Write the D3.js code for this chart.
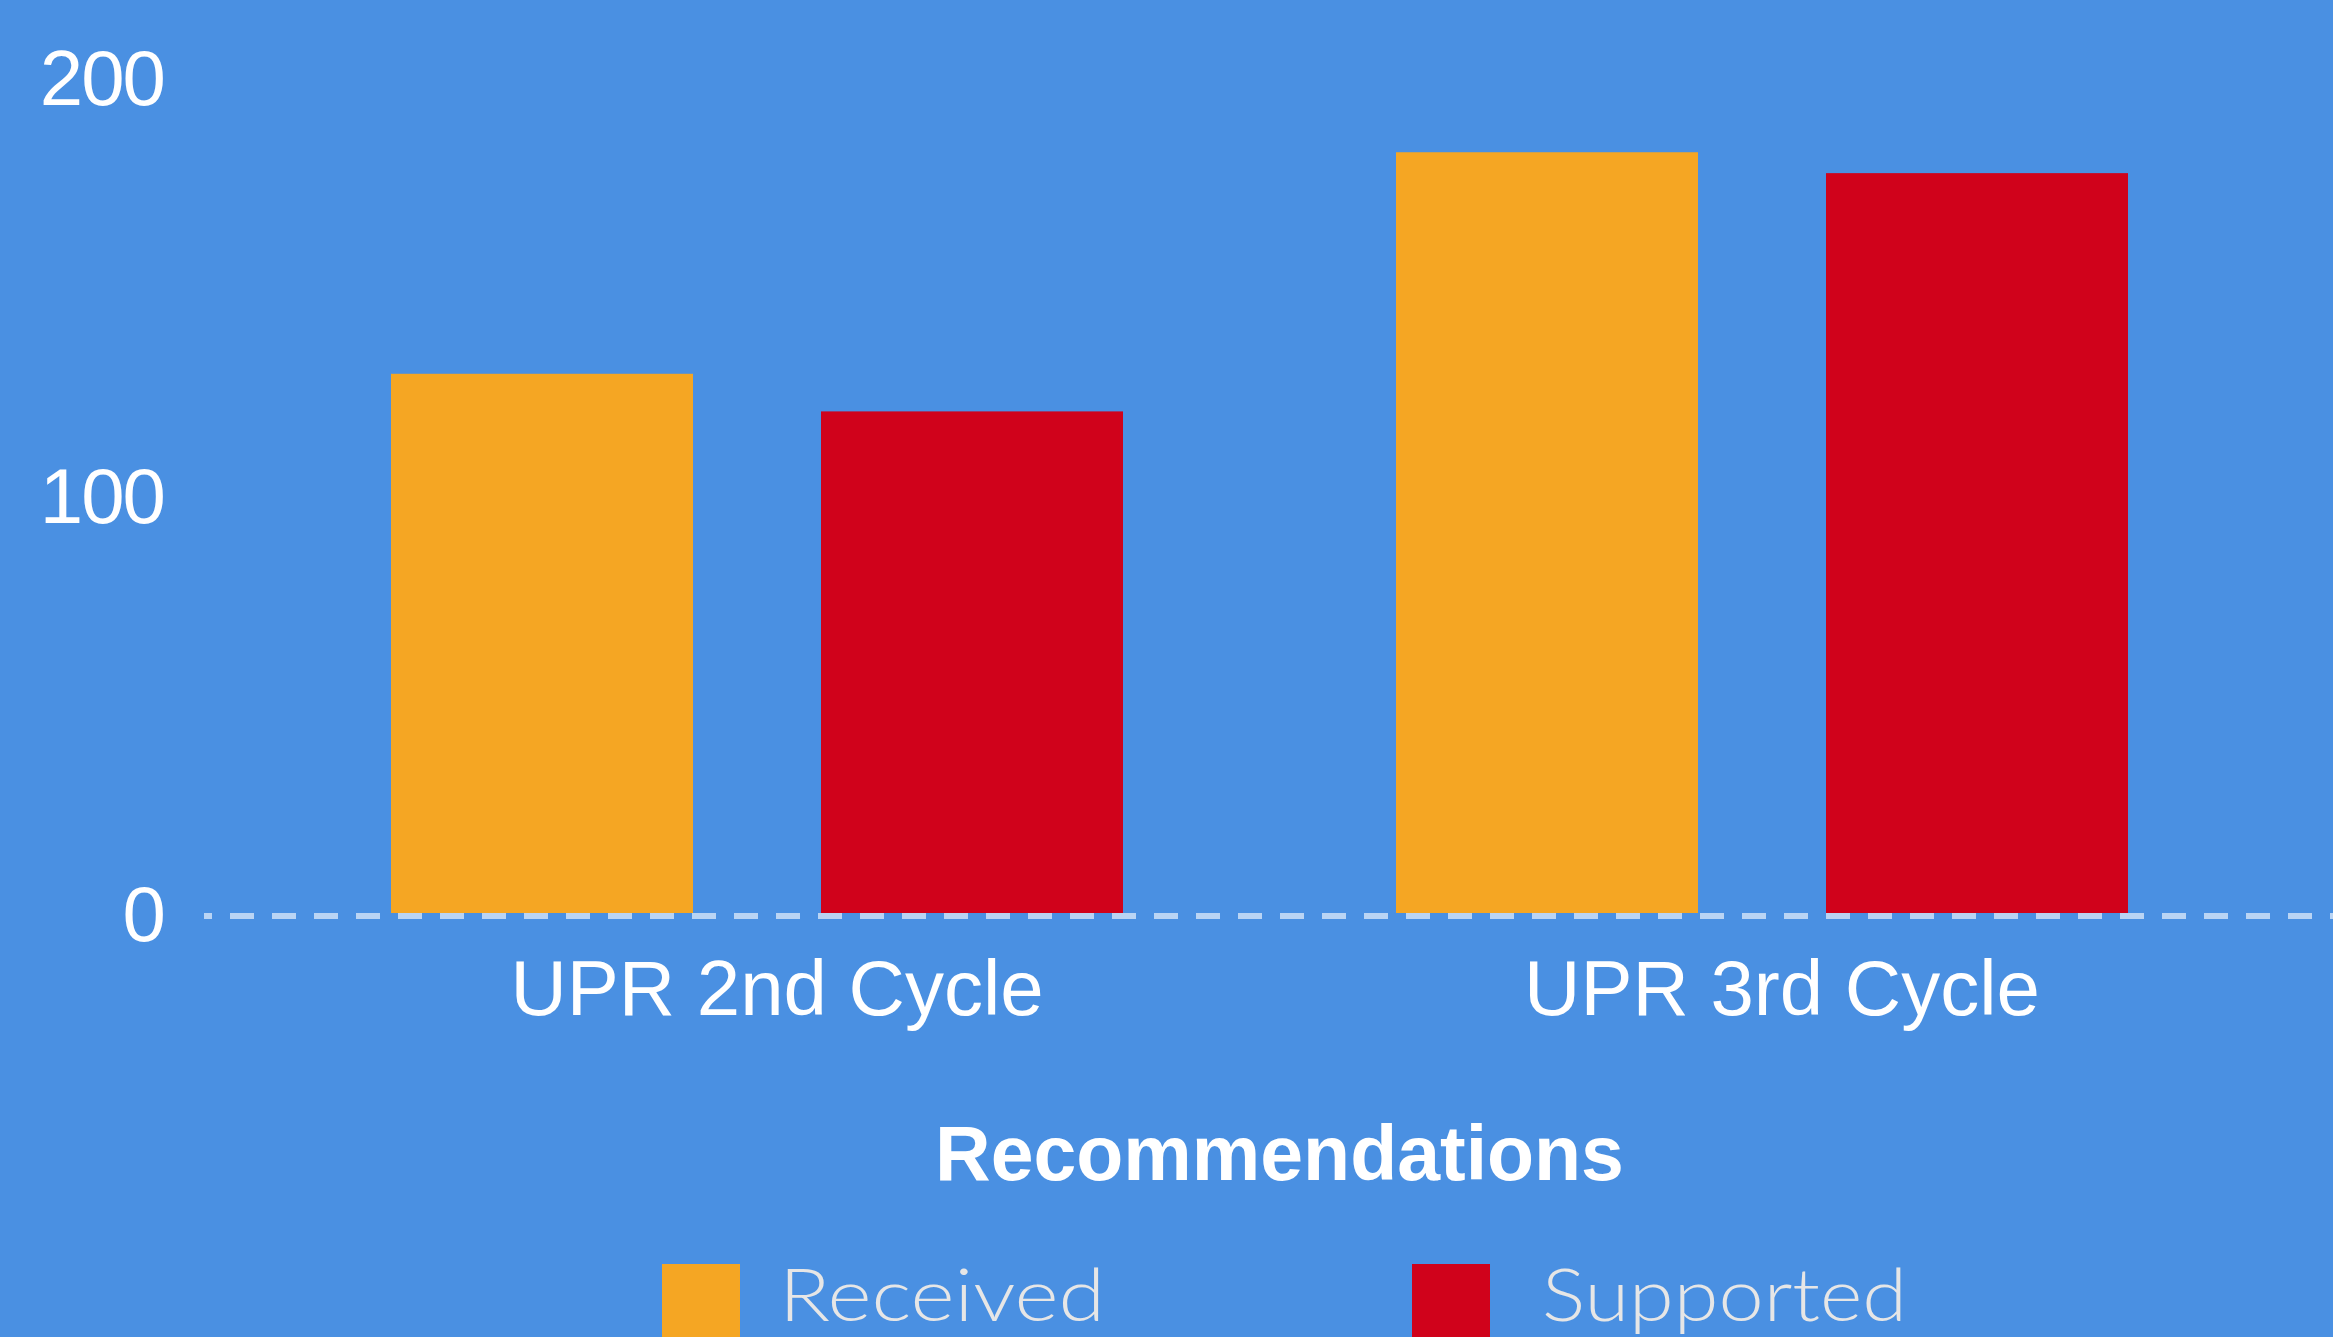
<!DOCTYPE html>
<html>
<head>
<meta charset="utf-8">
<script src="https://cdn.jsdelivr.net/npm/d3@7"></script>
<style>
  html, body { margin: 0; padding: 0; background: #4a90e2; }
  svg { display: block; }
</style>
</head>
<body>
<div id="chart"></div>
<script>
// data
const categories = ["UPR 2nd Cycle", "UPR 3rd Cycle"];
const seriesNames = ["Received", "Supported"];
const received = [129, 182];
const supported = [120, 177];
const yTickValues = [0, 100, 200];
const seriesColors = ["#f5a623", "#d0021b"];
const axisTitle = "Recommendations";

const width = 2333;
const height = 1337;

let svg = d3
  .select("#chart")
  .append("svg")
  .attr("width", width)
  .attr("height", height);

svg.append("rect")
  .attr("width", width)
  .attr("height", height)
  .attr("fill", "#4a90e2");

let y = d3.scaleLinear().domain([0, 200]).range([913, 77]);

// outer band per cycle, inner band per series
let x0 = d3.scaleBand().domain(categories).range([274.5, 2284.5]);
let x1 = d3
  .scaleBand()
  .domain(seriesNames)
  .range([116.5, 848.5])
  .paddingInner(0.2977);

let color = d3.scaleOrdinal().domain(seriesNames).range(seriesColors);

let rows = categories.map(function (c, i) {
  return { category: c, values: [received[i], supported[i]] };
});

// bars
let groups = svg
  .selectAll(".group")
  .data(rows)
  .enter()
  .append("g")
  .attr("class", "group")
  .attr("transform", function (d) {
    return "translate(" + x0(d.category) + ",0)";
  });

groups
  .selectAll("rect")
  .data(function (d) {
    return seriesNames.map(function (s, j) {
      return { name: s, value: d.values[j] };
    });
  })
  .enter()
  .append("rect")
  .attr("x", function (d) { return x1(d.name); })
  .attr("width", x1.bandwidth())
  .attr("y", function (d) { return y(d.value); })
  .attr("height", function (d) { return y(0) - y(d.value); })
  .attr("fill", function (d) { return color(d.name); });

// dashed zero line
svg.append("line")
  .attr("x1", 204)
  .attr("x2", width)
  .attr("y1", y(0) + 3)
  .attr("y2", y(0) + 3)
  .attr("stroke", "#b9d4f4")
  .attr("stroke-width", 6)
  .attr("stroke-dasharray", "24,18")
  .attr("stroke-dashoffset", 16);

// y axis labels
let yAxis = d3.axisLeft(y).tickValues(yTickValues).tickSize(0).tickPadding(0);
let gy = svg.append("g")
  .attr("transform", "translate(164,0)")
  .call(yAxis);
gy.select(".domain").remove();
gy.selectAll("text")
  .attr("fill", "#ffffff")
  .attr("dy", "0.35em")
  .style("font-family", "'Liberation Sans', Arial, sans-serif")
  .style("font-size", "78px")
  .style("letter-spacing", "-2px");

// x axis labels
let xAxis = d3.axisBottom(x0).tickSize(0).tickPadding(0);
let gx = svg.append("g")
  .attr("transform", "translate(0,1015)")
  .call(xAxis);
gx.select(".domain").remove();
gx.selectAll("text")
  .attr("fill", "#ffffff")
  .attr("dy", 0)
  .style("font-family", "'Liberation Sans', Arial, sans-serif")
  .style("font-size", "78px");

// axis title
svg.append("text")
  .attr("x", (x0.range()[0] + x0.range()[1]) / 2)
  .attr("y", 1180)
  .attr("text-anchor", "middle")
  .attr("fill", "#ffffff")
  .style("font-family", "'Liberation Sans', Arial, sans-serif")
  .style("font-weight", "bold")
  .style("font-size", "77px")
  .text(axisTitle);

// legend
let legendX = d3.scaleOrdinal().domain(seriesNames).range([662, 1412]);
let legendTextWidth = [326, 365];
let legend = svg
  .selectAll(".legend")
  .data(seriesNames)
  .enter()
  .append("g")
  .attr("class", "legend")
  .attr("transform", function (d) {
    return "translate(" + legendX(d) + ",1264)";
  });

legend.append("rect")
  .attr("width", 78)
  .attr("height", 78)
  .attr("fill", function (d) { return color(d); });

legend.append("text")
  .attr("x", function (d, i) { return i === 0 ? 117 : 130; })
  .attr("y", 57)
  .attr("fill", "#e6e6e6")
  .attr("textLength", function (d, i) { return legendTextWidth[i]; })
  .attr("lengthAdjust", "spacingAndGlyphs")
  .style("font-family", "'Century Gothic', 'URW Gothic', Lato, sans-serif")
  .style("font-weight", "300")
  .style("font-size", "72px")
  .text(function (d) { return d; });
</script>
</body>
</html>
